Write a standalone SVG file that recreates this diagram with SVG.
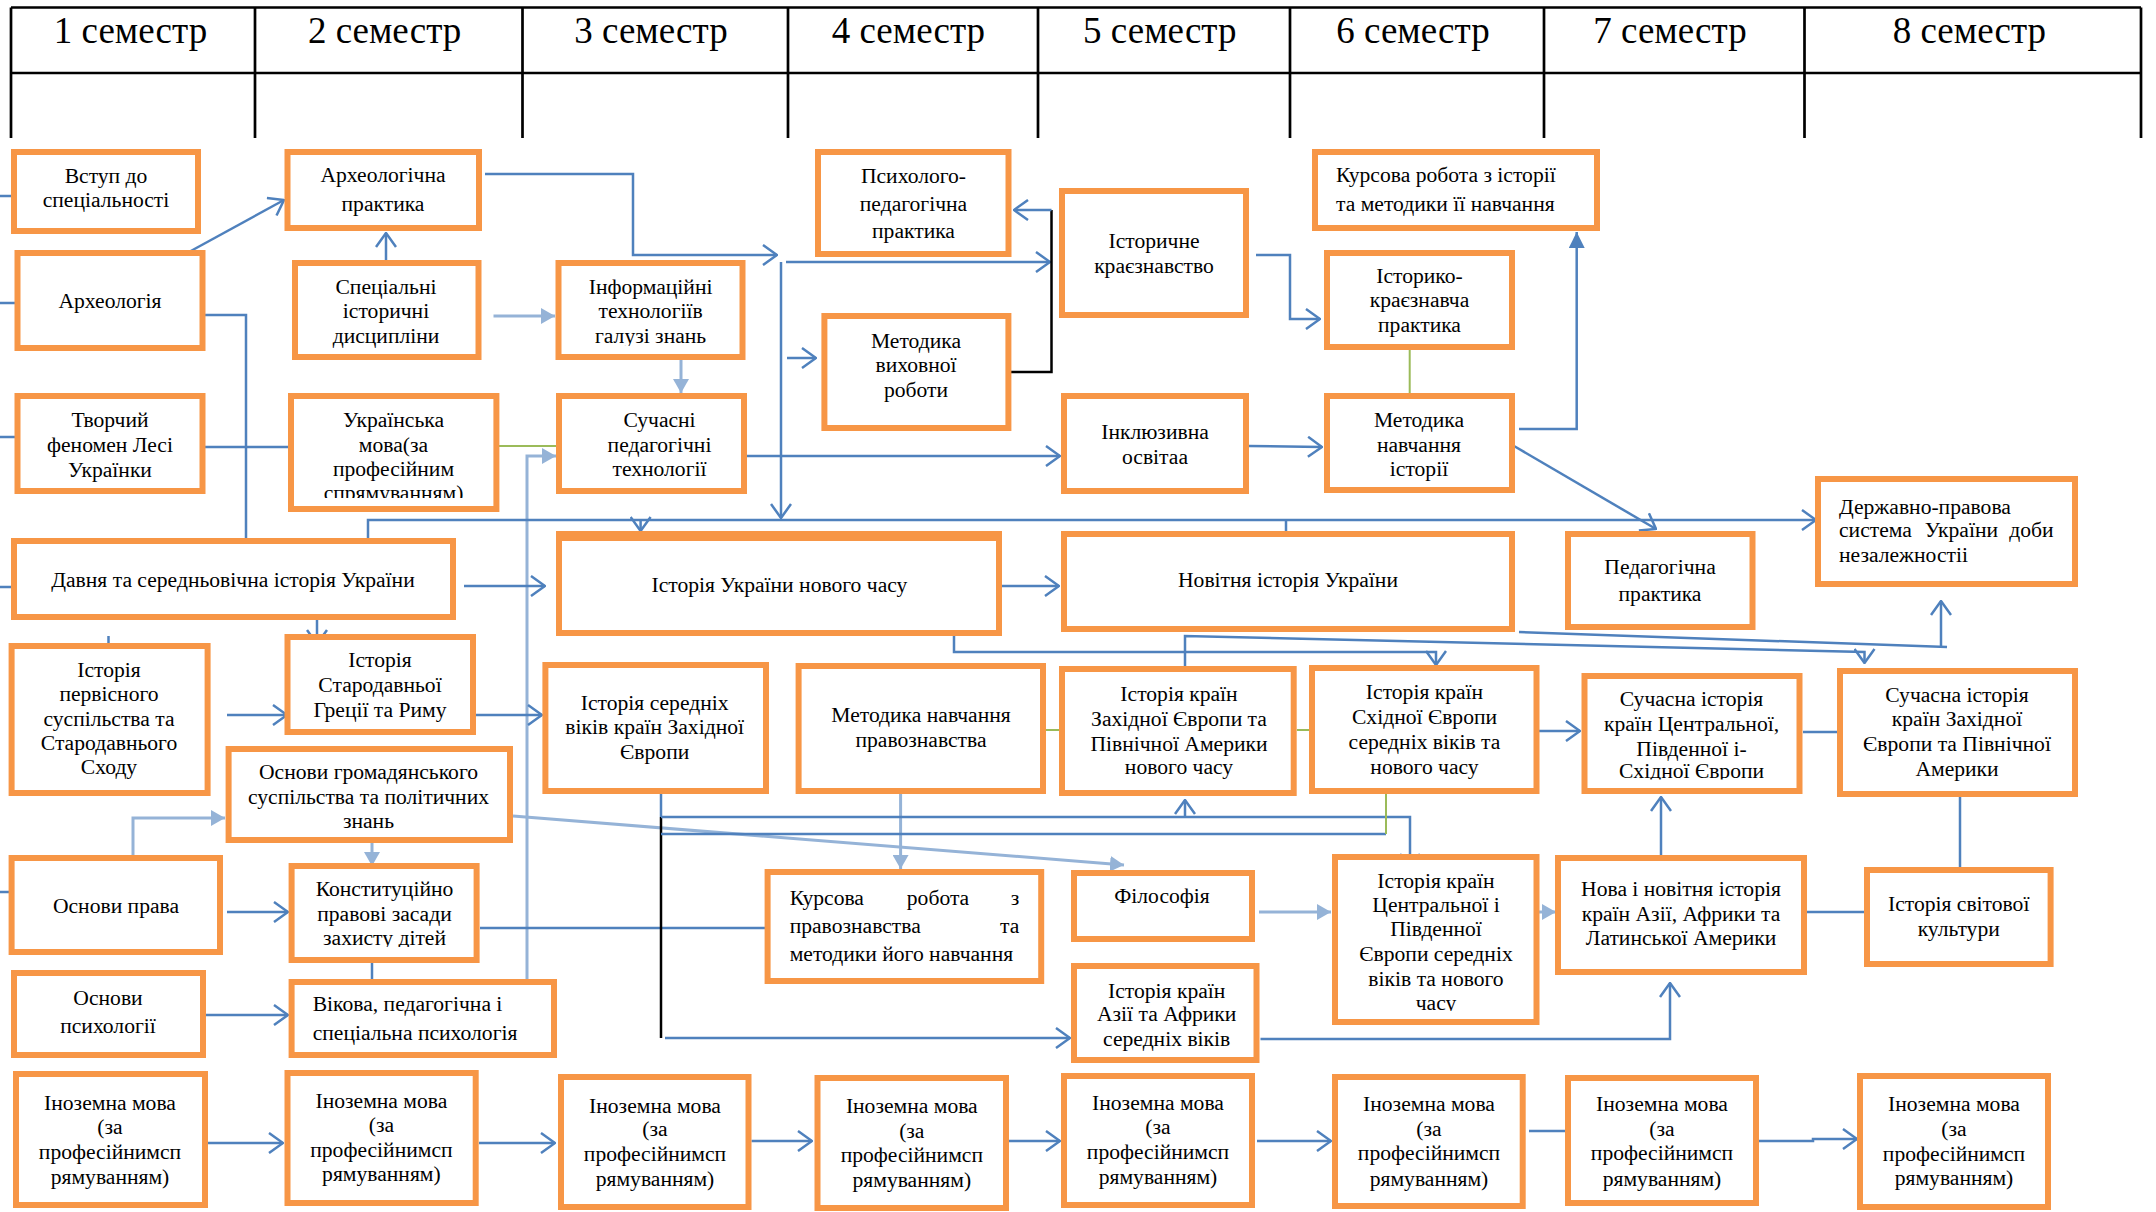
<svg xmlns="http://www.w3.org/2000/svg" width="2156" height="1212" viewBox="0 0 2156 1212">
<style>
text{font-family:"Liberation Serif","Times New Roman",serif;font-size:21.6px;fill:#000}
.h{font-size:37px;text-anchor:middle}
.c{text-anchor:middle}
.r{text-anchor:end}
.n rect.b{fill:#fff;stroke:#F79646;stroke-width:6}
.t{stroke:#000;stroke-width:2.7;fill:none}
.e{stroke:#4F81BD;stroke-width:2.5;fill:none}
.l{stroke:#95B3D7;stroke-width:3;fill:none}
.g{stroke:#9BBB59;stroke-width:2;fill:none}
.k{stroke:#000;stroke-width:2.5;fill:none}
</style>
<defs>
<marker id="a" viewBox="0 0 16 22" refX="15" refY="11" markerWidth="16" markerHeight="22" markerUnits="userSpaceOnUse" orient="auto"><path d="M1,1 L15,11 L1,21" fill="none" stroke="#4F81BD" stroke-width="2.5"/></marker>
<marker id="f" viewBox="0 0 14 16" refX="14" refY="8" markerWidth="14" markerHeight="16" markerUnits="userSpaceOnUse" orient="auto"><path d="M0,0 L14,8 L0,16 z" fill="#95B3D7"/></marker>
<marker id="bf" viewBox="0 0 16 16" refX="16" refY="8" markerWidth="16" markerHeight="16" markerUnits="userSpaceOnUse" orient="auto"><path d="M0,0 L16,8 L0,16 z" fill="#4F81BD"/></marker>
<clipPath id="cUkr"><rect x="291" y="396" width="205" height="102"/></clipPath>
<clipPath id="cInf"><rect x="558" y="263" width="184" height="83"/></clipPath>
<clipPath id="cKon"><rect x="291" y="866" width="185" height="81"/></clipPath>
<clipPath id="cCen"><rect x="1335" y="857" width="201" height="154"/></clipPath>
<clipPath id="cSC"><rect x="1584" y="676" width="215" height="103.5"/></clipPath>
</defs>
<rect width="2156" height="1212" fill="#fff"/>
<g id="header">
<path class="t" d="M11,7.5 H2141 M11,73 H2141 M11,7.5 V138 M255,7.5 V138 M522.5,7.5 V138 M788,7.5 V138 M1038,7.5 V138 M1290,7.5 V138 M1544,7.5 V138 M1804.5,7.5 V138 M2141,7.5 V138"/>
<text class="h" x="130.5" y="43">1 семестр</text>
<text class="h" x="384.6" y="43">2 семестр</text>
<text class="h" x="651" y="43">3 семестр</text>
<text class="h" x="908.4" y="43">4 семестр</text>
<text class="h" x="1159.8" y="43">5 семестр</text>
<text class="h" x="1413" y="43">6 семестр</text>
<text class="h" x="1670" y="43">7 семестр</text>
<text class="h" x="1969.4" y="43">8 семестр</text>
</g>
<g id="connectors">
<path class="e" d="M0,196 H14 M0,303 H17 M0,437 H17 M0,587 H14 M0,892 H12"/>
<path class="e" d="M189,252 L284,200" marker-end="url(#a)"/>
<path class="e" d="M386,262 V233" marker-end="url(#a)"/>
<path class="e" d="M202,315 H246 V538"/>
<path class="e" d="M203,447 H291"/>
<path class="e" d="M485,174 H633 V255 H777" marker-end="url(#a)"/>
<path class="e" d="M781,262 V518" marker-end="url(#a)"/>
<path class="e" d="M786,262 H1050" marker-end="url(#a)"/>
<path class="e" d="M787,358 H816" marker-end="url(#a)"/>
<path class="k" d="M1011,372 H1051.5 V210"/>
<path class="e" d="M1051.5,210 H1014" marker-end="url(#a)"/>
<path class="l" d="M493.5,316 H555" marker-end="url(#f)"/>
<path class="l" d="M681,360 V393" marker-end="url(#f)"/>
<path class="g" d="M499,446 H556"/>
<path class="l" d="M527,979 V456 H556" marker-end="url(#f)"/>
<path class="e" d="M747,456 H1060" marker-end="url(#a)"/>
<path class="e" d="M368,538 V520 H1816" marker-end="url(#a)"/>
<path class="e" d="M640.6,520 V531" marker-end="url(#a)"/>
<path class="e" d="M671.6,541 V558" marker-end="url(#a)"/>
<path class="e" d="M1286,520 V533"/>
<path class="e" d="M464,586 H545" marker-end="url(#a)"/>
<path class="e" d="M1002,586 H1059" marker-end="url(#a)"/>
<path class="e" d="M317,620 V644" marker-end="url(#a)"/>
<path class="e" d="M108.5,636 V659" marker-end="url(#a)"/>
<path class="e" d="M386,636 V676"/>
<path class="e" d="M227,715 H287" marker-end="url(#a)"/>
<path class="e" d="M476,715 H542" stroke-width="4.5" marker-end="url(#a)"/>
<path class="l" d="M133,856 V818 H225" marker-end="url(#f)"/>
<path class="l" d="M372,843 V866" marker-end="url(#f)"/>
<path class="l" d="M513,816 L1124,865" marker-end="url(#f)"/>
<path class="e" d="M227,912 H288" marker-end="url(#a)"/>
<path class="e" d="M480,928 H765"/>
<path class="e" d="M372,963 V979"/>
<path class="e" d="M205.6,1015 H288" marker-end="url(#a)"/>
<path class="l" d="M900.6,794 V869" marker-end="url(#f)"/>
<path class="e" d="M661,794 V817"/>
<path class="k" d="M661,817 V1038"/>
<path class="e" d="M665,1038 H1070" marker-end="url(#a)"/>
<path class="e" d="M661,817 H1410 V868" marker-end="url(#a)"/>
<path class="e" d="M1185,817 V800" marker-end="url(#a)"/>
<path class="e" d="M661,834 H1386"/>
<path class="g" d="M1386,834 V794"/>
<path class="g" d="M1046,730 H1061 M1297,730 H1309"/>
<path class="e" d="M954,636 V652 H1436 V665" marker-end="url(#a)"/>
<path class="e" d="M1519,632 L1947,647"/>
<path class="e" d="M1941,647 V601" marker-end="url(#a)"/>
<path class="e" d="M1185,666 V636 L1864.5,652 V663" marker-end="url(#a)"/>
<path class="e" d="M1519,429 H1576.7 V232" marker-end="url(#bf)"/>
<path class="e" d="M1514,446 L1656,529" marker-end="url(#a)"/>
<path class="g" d="M1409.7,350 V393"/>
<path class="e" d="M1256,255 H1290 V319 H1320" marker-end="url(#a)"/>
<path class="e" d="M1249,446 L1322,447" marker-end="url(#a)"/>
<path class="e" d="M1539,731 H1580" marker-end="url(#a)"/>
<path class="e" d="M1803,732 H1838"/>
<path class="e" d="M1960,797 V867"/>
<path class="l" d="M1259,912 H1331" marker-end="url(#f)"/>
<path class="l" d="M1538,912 H1556" marker-end="url(#f)"/>
<path class="e" d="M1260.5,1039 H1670 V983" marker-end="url(#a)"/>
<path class="e" d="M1661,855 V797" marker-end="url(#a)"/>
<path class="e" d="M1806,912 H1866"/>
<path class="e" d="M208,1143 H283" marker-end="url(#a)"/>
<path class="e" d="M479,1143 H555" marker-end="url(#a)"/>
<path class="e" d="M751.5,1141 H812" marker-end="url(#a)"/>
<path class="e" d="M1009,1141 H1060" marker-end="url(#a)"/>
<path class="e" d="M1257,1141 H1331" marker-end="url(#a)"/>
<path class="e" d="M1529,1131 H1565"/>
<path class="e" d="M1759,1141 H1813 V1139 H1857" marker-end="url(#a)"/>
</g>
<g id="vstup" class="n"><rect class="b" x="14" y="152" width="184" height="79"/><text class="c"><tspan x="106" y="183">Вступ до</tspan><tspan x="106" y="207">спеціальності</tspan></text></g>
<g id="arch" class="n"><rect class="b" x="17.5" y="253" width="185" height="95"/><text class="c" x="110" y="308">Археологія</text></g>
<g id="tvorch" class="n"><rect class="b" x="17.5" y="396" width="185" height="95"/><text class="c"><tspan x="110" y="427">Творчий</tspan><tspan x="110" y="452">феномен Лесі</tspan><tspan x="110" y="477">Українки</tspan></text></g>
<g id="davnya" class="n"><rect class="b" x="14" y="541" width="439" height="76"/><text class="c" x="233" y="587">Давня та середньовічна історія України</text></g>
<g id="pervisn" class="n"><rect class="b" x="11.6" y="646" width="196" height="147"/><text class="c"><tspan x="109" y="677">Історія</tspan><tspan x="109" y="701">первісного</tspan><tspan x="109" y="726">суспільства та</tspan><tspan x="109" y="750">Стародавнього</tspan><tspan x="109" y="774">Сходу</tspan></text></g>
<g id="osn_prava" class="n"><rect class="b" x="11.6" y="858" width="208.4" height="94"/><text class="c" x="116" y="913">Основи права</text></g>
<g id="osn_psych" class="n"><rect class="b" x="14" y="973" width="189" height="82"/><text class="c"><tspan x="108" y="1005">Основи</tspan><tspan x="108" y="1033">психології</tspan></text></g>
<g id="inoz1" class="n"><rect class="b" x="16" y="1074" width="189" height="131"/><text class="c"><tspan x="110" y="1110">Іноземна мова</tspan><tspan x="110" y="1134">(за</tspan><tspan x="110" y="1159">професійнимсп</tspan><tspan x="110" y="1184">рямуванням)</tspan></text></g>
<g id="archprak" class="n"><rect class="b" x="287.5" y="152" width="191.5" height="76"/><text class="c"><tspan x="383" y="182">Археологічна</tspan><tspan x="383" y="211">практика</tspan></text></g>
<g id="spec" class="n"><rect class="b" x="295" y="263" width="183.5" height="94"/><text class="c"><tspan x="386" y="294">Спеціальні</tspan><tspan x="386" y="318">історичні</tspan><tspan x="386" y="343">дисципліни</tspan></text></g>
<g id="ukrmova" class="n"><rect class="b" x="291" y="396" width="205.4" height="113"/><text class="c" clip-path="url(#cUkr)"><tspan x="393.5" y="427">Українська</tspan><tspan x="393.5" y="452">мова(за</tspan><tspan x="393.5" y="476">професійним</tspan><tspan x="393.5" y="500">спрямуванням)</tspan></text></g>
<g id="starod" class="n"><rect class="b" x="287.5" y="637" width="185.5" height="95"/><text class="c"><tspan x="380" y="667">Історія</tspan><tspan x="380" y="692">Стародавньої</tspan><tspan x="380" y="717">Греції та Риму</tspan></text></g>
<g id="osn_hrom" class="n"><rect class="b" x="228.6" y="749" width="281.4" height="91"/><text class="c"><tspan x="368.5" y="779">Основи  громадянського</tspan><tspan x="368.5" y="804">суспільства та політичних</tspan><tspan x="368.5" y="828">знань</tspan></text></g>
<g id="konst" class="n"><rect class="b" x="291.6" y="866" width="185" height="94"/><text class="c" clip-path="url(#cKon)"><tspan x="384.5" y="896">Конституційно</tspan><tspan x="384.5" y="921">правові засади</tspan><tspan x="384.5" y="945">захисту дітей</tspan></text></g>
<g id="vikova" class="n"><rect class="b" x="291.6" y="982" width="262.4" height="73"/><text><tspan x="312.7" y="1011">Вікова, педагогічна і</tspan><tspan x="312.7" y="1040">спеціальна психологія</tspan></text></g>
<g id="inoz2" class="n"><rect class="b" x="287.5" y="1073" width="188.2" height="130"/><text class="c"><tspan x="381.4" y="1108">Іноземна мова</tspan><tspan x="381.4" y="1132">(за</tspan><tspan x="381.4" y="1157">професійнимсп</tspan><tspan x="381.4" y="1181">рямуванням)</tspan></text></g>
<g id="inform" class="n"><rect class="b" x="558.5" y="263" width="184" height="94"/><text class="c" clip-path="url(#cInf)"><tspan x="650.6" y="294">Інформаційні</tspan><tspan x="650.6" y="318">технологіїв</tspan><tspan x="650.6" y="343">галузі знань</tspan></text></g>
<g id="suchasni" class="n"><rect class="b" x="559" y="396" width="185" height="95"/><text class="c"><tspan x="659.5" y="427">Сучасні</tspan><tspan x="659.5" y="452">педагогічні</tspan><tspan x="659.5" y="476">технології</tspan></text></g>
<g id="ist_ukr_nov" class="n"><rect class="b" x="559" y="534" width="440" height="99"/><rect x="556" y="531" width="446" height="10" fill="#F79646"/><text class="c" x="779.4" y="592">Історія України нового часу</text></g>
<g id="ser_vikiv" class="n"><rect class="b" x="545.4" y="665" width="220.6" height="126"/><text class="c"><tspan x="654.7" y="710">Історія середніх</tspan><tspan x="654.7" y="734">віків країн Західної</tspan><tspan x="654.7" y="759">Європи</tspan></text></g>
<g id="kurs_prav" class="n"><rect class="b" x="767.6" y="872" width="273.6" height="109"/><text><tspan x="789.7" y="905">Курсова</tspan><tspan x="906.8" y="905">робота</tspan><tspan x="1019.4" y="905" text-anchor="end">з</tspan><tspan x="789.7" y="933">правознавства</tspan><tspan x="1019.4" y="933" text-anchor="end">та</tspan><tspan x="789.7" y="961">методики його навчання</tspan></text></g>
<g id="psych_ped" class="n"><rect class="b" x="818" y="152" width="190.5" height="102"/><text class="c"><tspan x="913.5" y="183">Психолого-</tspan><tspan x="913.5" y="211">педагогічна</tspan><tspan x="913.5" y="238">практика</tspan></text></g>
<g id="metod_vych" class="n"><rect class="b" x="824.4" y="316" width="184" height="112"/><text class="c"><tspan x="916" y="348">Методика</tspan><tspan x="916" y="372">виховної</tspan><tspan x="916" y="397">роботи</tspan></text></g>
<g id="metod_prav" class="n"><rect class="b" x="798.6" y="666" width="244.4" height="125"/><text class="c"><tspan x="921" y="722">Методика навчання</tspan><tspan x="921" y="747">правознавства</tspan></text></g>
<g id="inoz3" class="n"><rect class="b" x="561" y="1077" width="187.5" height="130"/><text class="c"><tspan x="655" y="1113">Іноземна мова</tspan><tspan x="655" y="1136">(за</tspan><tspan x="655" y="1161">професійнимсп</tspan><tspan x="655" y="1186">рямуванням)</tspan></text></g>
<g id="inoz4" class="n"><rect class="b" x="817.5" y="1078" width="188.5" height="130"/><text class="c"><tspan x="911.8" y="1113">Іноземна мова</tspan><tspan x="911.8" y="1138">(за</tspan><tspan x="911.8" y="1162">професійнимсп</tspan><tspan x="911.8" y="1187">рямуванням)</tspan></text></g>
<g id="istor_kraj" class="n"><rect class="b" x="1062" y="191" width="184" height="124"/><text class="c"><tspan x="1154" y="248">Історичне</tspan><tspan x="1154" y="273">краєзнавство</tspan></text></g>
<g id="inkl" class="n"><rect class="b" x="1064" y="396" width="182" height="95"/><text class="c"><tspan x="1155" y="439">Інклюзивна</tspan><tspan x="1155" y="464">освітаа</tspan></text></g>
<g id="novitnya" class="n"><rect class="b" x="1064" y="534" width="448" height="95"/><text class="c" x="1288" y="587">Новітня історія України</text></g>
<g id="zah_evr" class="n"><rect class="b" x="1062" y="669" width="231.7" height="124"/><text class="c"><tspan x="1179" y="701">Історія країн</tspan><tspan x="1179" y="726">Західної Європи та</tspan><tspan x="1179" y="751">Північної Америки</tspan><tspan x="1179" y="774">нового часу</tspan></text></g>
<g id="filos" class="n"><rect class="b" x="1074" y="873" width="178" height="66"/><text class="c" x="1162" y="903">Філософія</text></g>
<g id="azii" class="n"><rect class="b" x="1074" y="966" width="182.5" height="94"/><text class="c"><tspan x="1166.7" y="998">Історія країн</tspan><tspan x="1166.7" y="1021">Азії та Африки</tspan><tspan x="1166.7" y="1046">середніх віків</tspan></text></g>
<g id="inoz5" class="n"><rect class="b" x="1064" y="1076" width="188" height="129"/><text class="c"><tspan x="1158" y="1110">Іноземна мова</tspan><tspan x="1158" y="1134">(за</tspan><tspan x="1158" y="1159">професійнимсп</tspan><tspan x="1158" y="1184">рямуванням)</tspan></text></g>
<g id="kurs_ist" class="n"><rect class="b" x="1315" y="152" width="282" height="76"/><text><tspan x="1336" y="182">Курсова робота з історії</tspan><tspan x="1336" y="211">та методики її навчання</tspan></text></g>
<g id="ist_kraj_prak" class="n"><rect class="b" x="1327" y="253" width="185" height="94"/><text class="c"><tspan x="1419.5" y="283">Історико-</tspan><tspan x="1419.5" y="307">краєзнавча</tspan><tspan x="1419.5" y="332">практика</tspan></text></g>
<g id="metod_ist" class="n"><rect class="b" x="1327" y="396" width="185" height="94"/><text class="c"><tspan x="1419" y="427">Методика</tspan><tspan x="1419" y="452">навчання</tspan><tspan x="1419" y="476">історії</tspan></text></g>
<g id="skhid" class="n"><rect class="b" x="1312" y="668" width="224.5" height="123"/><text class="c"><tspan x="1424.5" y="699">Історія країн</tspan><tspan x="1424.5" y="724">Східної Європи</tspan><tspan x="1424.5" y="749">середніх віків та</tspan><tspan x="1424.5" y="774">нового часу</tspan></text></g>
<g id="centr" class="n"><rect class="b" x="1335" y="857" width="201.5" height="165"/><text class="c" clip-path="url(#cCen)"><tspan x="1436" y="888">Історія країн</tspan><tspan x="1436" y="912">Центральної і</tspan><tspan x="1436" y="936">Південної</tspan><tspan x="1436" y="961">Європи середніх</tspan><tspan x="1436" y="986">віків  та нового</tspan><tspan x="1436" y="1010">часу</tspan></text></g>
<g id="inoz6" class="n"><rect class="b" x="1335" y="1077" width="187.7" height="129"/><text class="c"><tspan x="1429" y="1111">Іноземна мова</tspan><tspan x="1429" y="1136">(за</tspan><tspan x="1429" y="1160">професійнимсп</tspan><tspan x="1429" y="1186">рямуванням)</tspan></text></g>
<g id="ped_prak" class="n"><rect class="b" x="1568" y="534" width="184.5" height="93"/><text class="c"><tspan x="1660" y="574">Педагогічна</tspan><tspan x="1660" y="601">практика</tspan></text></g>
<g id="suchas_centr" class="n"><rect class="b" x="1584.5" y="676" width="215" height="115"/><text class="c" clip-path="url(#cSC)"><tspan x="1691.5" y="706">Сучасна історія</tspan><tspan x="1691.5" y="731">країн Центральної,</tspan><tspan x="1691.5" y="756">Південної і-</tspan><tspan x="1691.5" y="778">Східної Європи</tspan></text></g>
<g id="nova" class="n"><rect class="b" x="1558" y="858" width="246" height="114"/><text class="c"><tspan x="1681" y="896">Нова і новітня історія</tspan><tspan x="1681" y="921">країн Азії, Африки та</tspan><tspan x="1681" y="945">Латинської Америки</tspan></text></g>
<g id="inoz7" class="n"><rect class="b" x="1568" y="1078" width="188" height="125"/><text class="c"><tspan x="1662" y="1111">Іноземна мова</tspan><tspan x="1662" y="1136">(за</tspan><tspan x="1662" y="1160">професійнимсп</tspan><tspan x="1662" y="1186">рямуванням)</tspan></text></g>
<g id="derzh" class="n"><rect class="b" x="1818" y="479" width="257" height="105"/><text><tspan x="1839" y="514">Державно-правова</tspan><tspan x="1839" y="537">система</tspan><tspan x="1924.7" y="537">України</tspan><tspan x="2053.6" y="537" text-anchor="end">доби</tspan><tspan x="1839" y="562">незалежностіі</tspan></text></g>
<g id="suchas_zah" class="n"><rect class="b" x="1840" y="671" width="235" height="123"/><text class="c"><tspan x="1957" y="702">Сучасна історія</tspan><tspan x="1957" y="726">країн Західної</tspan><tspan x="1957" y="751">Європи та Північної</tspan><tspan x="1957" y="776">Америки</tspan></text></g>
<g id="svit" class="n"><rect class="b" x="1867" y="870" width="183.6" height="94"/><text class="c"><tspan x="1958.7" y="911">Історія світової</tspan><tspan x="1958.7" y="936">культури</tspan></text></g>
<g id="inoz8" class="n"><rect class="b" x="1860" y="1076" width="188" height="131"/><text class="c"><tspan x="1954" y="1111">Іноземна мова</tspan><tspan x="1954" y="1136">(за</tspan><tspan x="1954" y="1161">професійнимсп</tspan><tspan x="1954" y="1185">рямуванням)</tspan></text></g>
</svg>
